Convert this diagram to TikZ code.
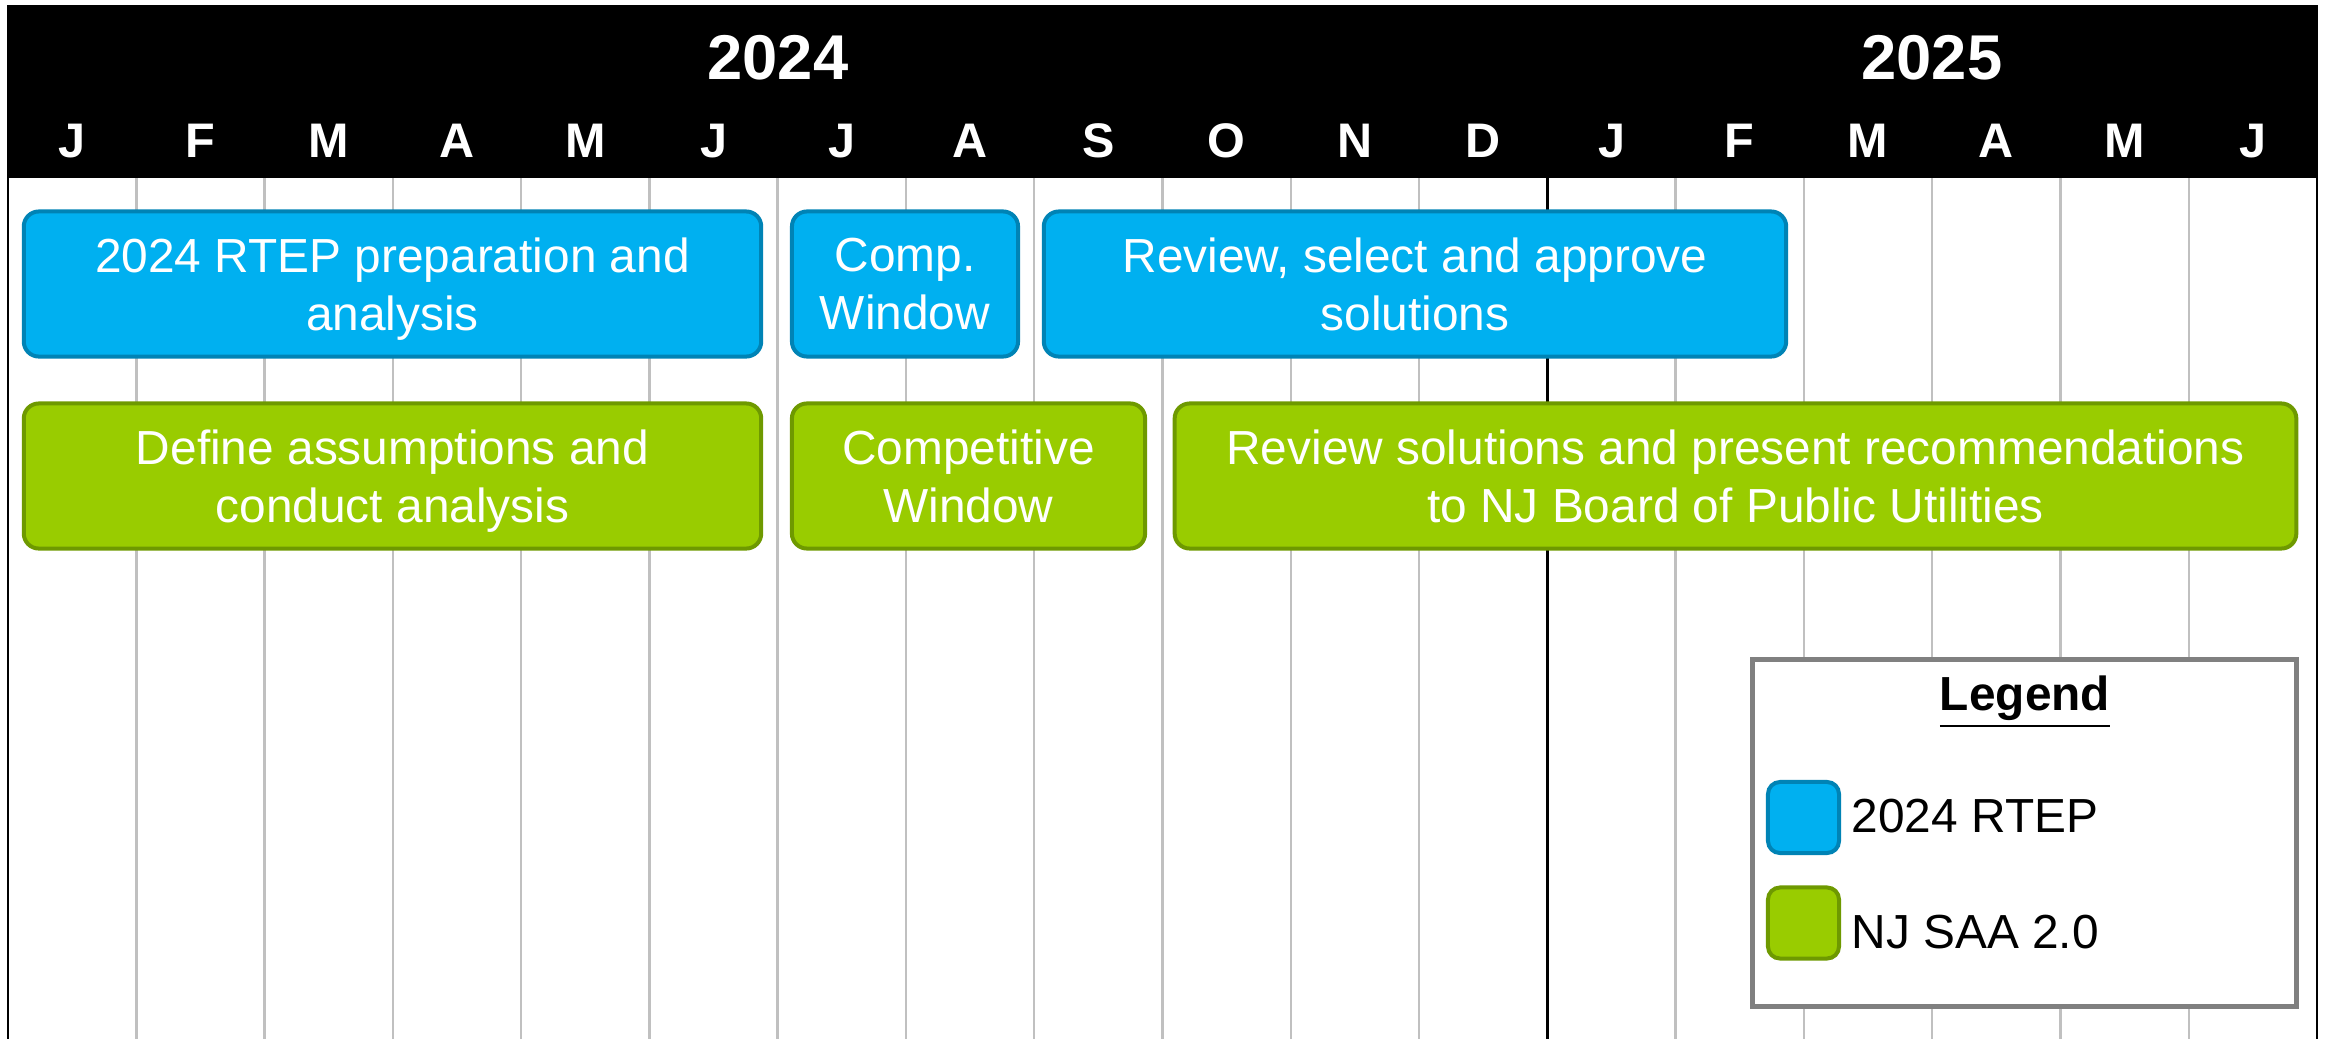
\documentclass[tikz,border=0pt]{standalone}
\usepackage{fontspec}
\setmainfont{Liberation Sans}
\definecolor{rtepfill}{HTML}{00B0F0}
\definecolor{rtepline}{HTML}{0083B5}
\definecolor{saafill}{HTML}{99CC00}
\definecolor{saaline}{HTML}{6E9900}
\definecolor{gridgray}{HTML}{C0C0C0}
\definecolor{legendgray}{HTML}{808080}
\begin{document}
\begin{tikzpicture}[x=0.01cm,y=-0.01cm,
        body/.style={font=\fontsize{13.6}{16.5}\selectfont},
        task/.style={body,text=white,align=center,rounded corners=0.15cm,
            line width=0.04cm,minimum height=1.45cm,inner sep=0pt,text depth=0pt},
        rtep/.style={task,draw=rtepline,fill=rtepfill},
        saa/.style={task,draw=saaline,fill=saafill},
        month/.style={text=white,font=\bfseries\fontsize{13.8}{13.8}\selectfont},
        year/.style={text=white,font=\bfseries\fontsize{18}{18}\selectfont},
        swatch/.style={minimum size=0.71cm,rounded corners=0.12cm,line width=0.04cm,inner sep=0pt}]
    \useasboundingbox (0,0) rectangle (2326,1039);

    % grid of months
    \foreach \k in {1,...,17}
        \draw[gridgray,line width=0.025cm] ({8+128.28*\k},178) -- ({8+128.28*\k},1039);
    \draw[line width=0.025cm] ({8+128.28*12},178) -- ({8+128.28*12},1039);
    \draw[line width=0.025cm] (8,5) -- (8,1039);
    \draw[line width=0.025cm] (2317,5) -- (2317,1039);

    % header
    \fill (8,5) rectangle (2317,178);
    \node[year] (y2024) at (778,58) {2024};
    \node[year] (y2025) at (1932,58) {2025};
    \foreach \m [count=\i] in {J,F,M,A,M,J,J,A,S,O,N,D,J,F,M,A,M,J}
        \node[month] (m\i) at ({8+128.28*(\i-0.5)},141) {\m};

    % 2024 RTEP row
    \node[rtep,minimum width=7.37cm] (prep) at (392.5,284) {2024 RTEP preparation and\\analysis};
    \node[rtep,minimum width=2.26cm] (comp) at (905,284) {Comp.\\Window};
    \node[rtep,minimum width=7.42cm] (select) at (1415,284) {Review, select and approve\\solutions};

    % NJ SAA 2.0 row
    \node[saa,minimum width=7.37cm] (define) at (392.5,476) {Define assumptions and\\conduct analysis};
    \node[saa,minimum width=3.53cm] (window) at (968.5,476) {Competitive\\Window};
    \node[saa,minimum width=11.21cm] (present) at (1735.5,476) {Review solutions and present recommendations\\to NJ Board of Public Utilities};

    % legend
    \node[draw=legendgray,fill=white,line width=0.05cm,minimum width=5.43cm,minimum height=3.46cm] (legend) at (2024.5,833) {};
    \node[body,font=\bfseries\fontsize{13.6}{16.5}\selectfont] (title) at (2025,702) {\underline{Legend}};
    \node[swatch,draw=rtepline,fill=rtepfill] (keyrtep) at (1803.5,817.5) {};
    \node[swatch,draw=saaline,fill=saafill] (keysaa) at (1803.5,923) {};
    \node[body,anchor=west,inner sep=0pt] (rteptext) at (1851,816) {2024 RTEP};
    \node[body,anchor=west,inner sep=0pt] (saatext) at (1851,932) {NJ SAA 2.0};
\end{tikzpicture}
\end{document}
